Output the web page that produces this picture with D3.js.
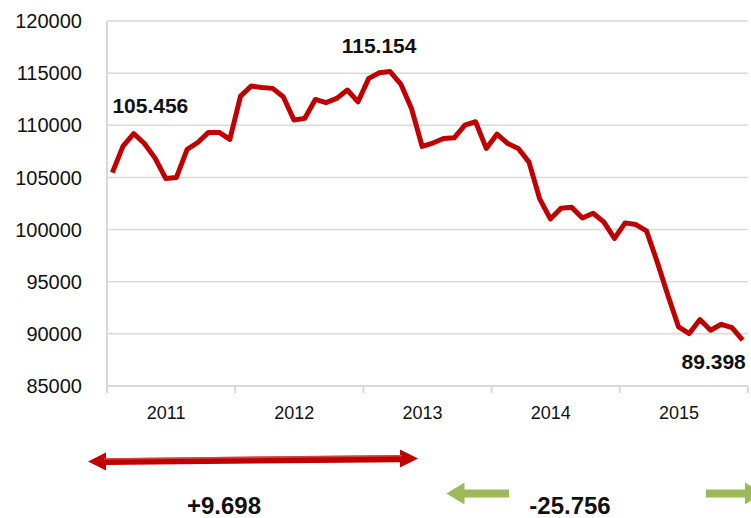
<!DOCTYPE html>
<html>
<head>
<meta charset="utf-8">
<script src="https://cdn.jsdelivr.net/npm/d3@7"></script>
<style>
  html, body { margin: 0; padding: 0; background: #fff; }
  svg { display: block; font-family: 'Liberation Sans', Arial, sans-serif; }
</style>
</head>
<body>
<svg id="chart" width="751" height="518"></svg>
<script>
/* global d3 */

// monthly values, Jan 2011 .. Dec 2015
const values = [
  105456, 108000, 109200, 108250, 106850, 104900, 105000, 107700, 108350, 109320, 109320, 108650,
  112800, 113760, 113630, 113540, 112740, 110500, 110660, 112480, 112170, 112580, 113380, 112250,
  114500, 115040, 115154, 113950, 111620, 107970, 108300, 108740, 108800, 110020, 110340, 107780,
  109150, 108260, 107780, 106470, 102950, 101020, 102050, 102130, 101110, 101570, 100740, 99150,
  100640, 100480, 99875, 96900, 93700, 90660, 90030, 91370, 90350, 90920, 90600, 89398,
];
const years = ['2011', '2012', '2013', '2014', '2015'];
const yTicks = [85000, 90000, 95000, 100000, 105000, 110000, 115000, 120000];

// highlighted points: start, peak, end
const callouts = [
  { i: 0, text: '105.456' },
  { i: 26, text: '115.154' },
  { i: 59, text: '89.398' },
];
const changes = ['+9.698', '-25.756'];

const RED = '#c00000';
const GREEN = '#9bbb59';
const GRID = '#d9d9d9';

const svg = d3.select('#chart');
const plotLeft = 107;
const plotRight = 748;
const plotTop = 21;
const plotBottom = 386;

const x = d3.scaleLinear().domain([0, values.length]).range([plotLeft, plotRight]);
const y = d3.scaleLinear().domain([85000, 120000]).range([plotBottom, plotTop]);

// gridlines
svg
  .append('g')
  .selectAll('line')
  .data(yTicks.slice(1))
  .join('line')
  .attr('x1', plotLeft)
  .attr('x2', plotRight)
  .attr('y1', (d) => y(d))
  .attr('y2', (d) => y(d))
  .attr('stroke', GRID)
  .attr('stroke-width', 1.5);

// y axis labels
svg
  .append('g')
  .selectAll('text')
  .data(yTicks)
  .join('text')
  .attr('x', 82)
  .attr('y', (d) => y(d))
  .attr('dy', '0.36em')
  .attr('text-anchor', 'end')
  .attr('font-size', 20)
  .attr('fill', '#111')
  .text((d) => d);

// axis lines
svg
  .append('line')
  .attr('x1', plotLeft)
  .attr('x2', plotLeft)
  .attr('y1', plotTop)
  .attr('y2', plotBottom)
  .attr('stroke', GRID)
  .attr('stroke-width', 2);

svg
  .append('line')
  .attr('x1', plotLeft)
  .attr('x2', plotRight)
  .attr('y1', plotBottom)
  .attr('y2', plotBottom)
  .attr('stroke', GRID)
  .attr('stroke-width', 2);

// year ticks every 12 months
svg
  .append('g')
  .selectAll('line')
  .data(d3.range(0, values.length + 1, 12))
  .join('line')
  .attr('x1', (d) => x(d))
  .attr('x2', (d) => x(d))
  .attr('y1', plotBottom)
  .attr('y2', plotBottom + 7)
  .attr('stroke', GRID)
  .attr('stroke-width', 2);

svg
  .append('g')
  .selectAll('text')
  .data(years)
  .join('text')
  .attr('x', (d, i) => x(i * 12 + 6) - 5)
  .attr('y', 413)
  .attr('dy', '0.36em')
  .attr('text-anchor', 'middle')
  .attr('font-size', 18)
  .attr('fill', '#111')
  .text((d) => d);

// the series
const line = d3
  .line()
  .x((d, i) => x(i + 0.5))
  .y((d) => y(d));

svg
  .append('path')
  .datum(values)
  .attr('d', line)
  .attr('fill', 'none')
  .attr('stroke', RED)
  .attr('stroke-width', 5)
  .attr('stroke-linejoin', 'round');

// value callouts
const calloutOffset = [
  { dx: 38, dy: -67 },
  { dx: -11, dy: -26 },
  { dx: -29, dy: 21 },
];
svg
  .append('g')
  .selectAll('text')
  .data(callouts)
  .join('text')
  .attr('x', (d, k) => x(d.i + 0.5) + calloutOffset[k].dx)
  .attr('y', (d, k) => y(values[d.i]) + calloutOffset[k].dy)
  .attr('dy', '0.36em')
  .attr('text-anchor', 'middle')
  .attr('font-size', 21)
  .attr('font-weight', 'bold')
  .attr('fill', '#111')
  .text((d) => d.text);

// arrows under the chart
function arrowHead(px, py, dir, half, len) {
  return `M${px},${py} L${px - dir * len},${py - half} L${px - dir * len},${py + half} Z`;
}

const redArrow = svg.append('g').attr('fill', RED);
redArrow
  .append('path')
  .attr('d', 'M104,458.2 L402,455 L402,462.2 L104,465 Z');
redArrow.append('path').attr('d', arrowHead(88, 461.5, -1, 9, 18));
redArrow.append('path').attr('d', arrowHead(418, 458.5, 1, 9, 18));
redArrow
  .append('path')
  .attr('d', 'M104,458.2 L402,455 L402,456.6 L104,459.8 Z')
  .attr('fill', '#e07070')
  .attr('opacity', 0.6);

const greenArrows = svg.append('g').attr('fill', GREEN);
greenArrows.append('rect').attr('x', 463).attr('y', 489.5).attr('width', 46).attr('height', 8);
greenArrows.append('path').attr('d', arrowHead(446.5, 493.5, -1, 11, 18));
greenArrows.append('rect').attr('x', 706).attr('y', 489.5).attr('width', 40).attr('height', 8);
greenArrows.append('path').attr('d', arrowHead(763, 493.5, 1, 11, 18));

svg
  .append('g')
  .selectAll('text')
  .data(changes)
  .join('text')
  .attr('x', (d, i) => (i === 0 ? 224 : 570))
  .attr('y', 505)
  .attr('dy', '0.36em')
  .attr('text-anchor', 'middle')
  .attr('font-size', 24)
  .attr('font-weight', 'bold')
  .attr('fill', '#111')
  .text((d) => d);
</script>
</body>
</html>
